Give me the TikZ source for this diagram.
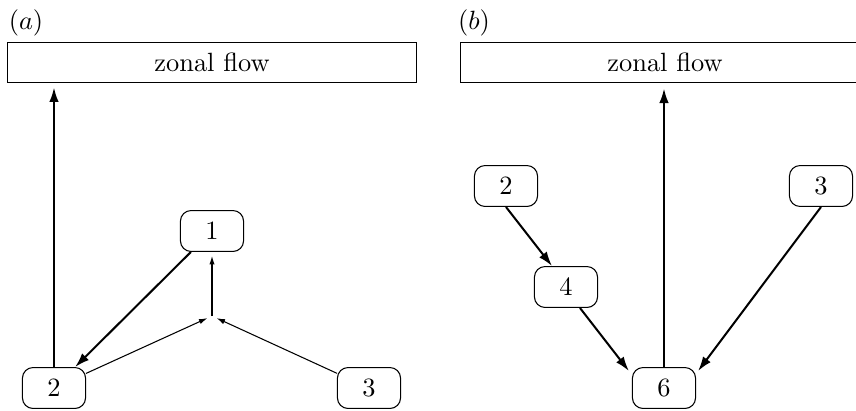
\documentclass[tikz,border=0pt]{standalone}
\usetikzlibrary{arrows.meta,calc}
\begin{document}
\begin{tikzpicture}[x=0.3788pt,y=-0.3788pt,
  nd/.style={draw,line width=0.4pt,rounded corners=4pt,minimum width=23.9pt,minimum height=15.5pt,inner sep=0pt},
  zbox/.style={draw,line width=0.4pt,minimum width=154.6pt,minimum height=15.5pt,inner sep=0pt},
  lab/.style={inner sep=0pt},
  thk/.style={line width=0.76pt,-{Latex[length=5.5pt,width=3.6pt]}},
  thn/.style={line width=0.4pt,-{Latex[length=3.2pt,width=2pt]}}]
\useasboundingbox (0,0) rectangle (856,410);
% panel (a)
\node[lab] (la) at (26,23) {$(a)$};
\node[zbox] (za) at (212,62.5) {zonal flow};
\node[nd] (a1) at (212,231) {1};
\node[nd] (a2) at (54,388) {2};
\node[nd] (a3) at (369,388) {3};
\coordinate (J) at (212,316);
\draw[thk,shorten >=1.5pt] (a2.north) -- (a2.north |- za.south);
\draw[thk] (a1) -- (a2);
\draw[thn,shorten >=1.9pt] (a2) -- (J);
\draw[thn,shorten >=1.9pt] (a3) -- (J);
\draw[thn,shorten >=1.5pt] (J) -- (a1.south);
% panel (b)
\node[lab] (lb) at (474,23) {$(b)$};
\node[zbox] (zb) at (665,62.5) {zonal flow};
\node[nd] (b2) at (506,186) {2};
\node[nd] (b3) at (821,186) {3};
\node[nd] (b4) at (566,287) {4};
\node[nd] (b6) at (664,388) {6};
\draw[thk,shorten >=1.9pt] (b6.north) -- (b6.north |- zb.south);
\draw[thk] (b2.south) -- ($(b4.north)+(-14,0)$);
\draw[thk] ($(b4.south)+(14,0)$) -- ($(b6.north west)+(-3,4)$);
\draw[thk] (b3.south) -- ($(b6.north east)+(2,4)$);
\end{tikzpicture}
\end{document}
